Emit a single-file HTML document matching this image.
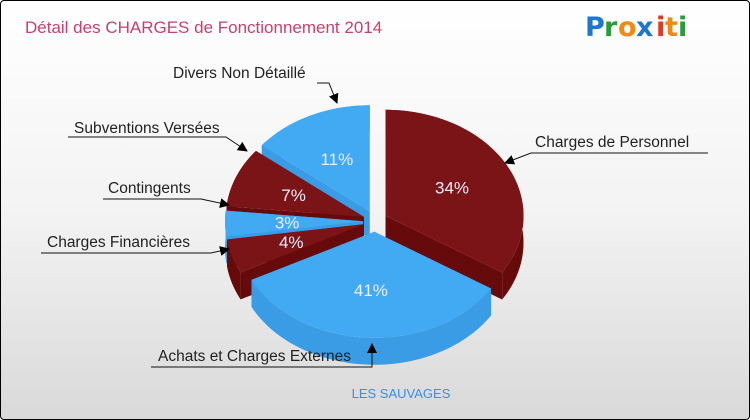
<!DOCTYPE html>
<html><head><meta charset="utf-8"><style>
html,body{margin:0;padding:0}
body{width:750px;height:420px;overflow:hidden;font-family:"Liberation Sans",sans-serif}
#wrap{position:absolute;left:0;top:0;width:748px;height:418px;border:1px solid #000;border-radius:4px;background:linear-gradient(#fff 0%,#f3f3f3 50%,#d9d9d9 100%);overflow:hidden}
</style></head><body>
<div id="wrap">
<svg id="svg" width="748" height="418" viewBox="0 0 748 418">
<defs><marker id="arr" markerWidth="10" markerHeight="10" refX="9" refY="5" orient="auto" markerUnits="userSpaceOnUse"><path d="M0,0 L10,5 L0,10 z" fill="#000"/></marker></defs>
<text x="24" y="32" font-size="17" fill="#c8406e">Détail des CHARGES de Fonctionnement 2014</text>
<g font-family="'DejaVu Sans',sans-serif" font-weight="bold" font-size="27">
<text x="584" y="35" fill="#1a78d0">P</text><text x="603" y="35" fill="#2a9a3a">r</text><text x="617" y="35" fill="#f08a10">o</text><text x="635" y="35" fill="#1a78d0">x</text><text x="655" y="35" fill="#e03a20">i</text><text x="664" y="35" fill="#f08a10">t</text><text x="677" y="35" fill="#2a9a3a">i</text>
</g>
<g id="pie"></g>
<g id="labels" font-size="15.5" fill="#222"></g>
<text x="400" y="397" font-size="13" fill="#3a8ee0" text-anchor="middle">LES SAUVAGES</text>
</svg>
</div>
<script>
const categories=["Charges de Personnel","Achats et Charges Externes","Charges Financières","Contingents","Subventions Versées","Divers Non Détaillé"];
const values=[34,41,4,3,7,11];
const pctLabels=["34%","41%","4%","3%","7%","11%"];
const NS="http://www.w3.org/2000/svg";
const cx=374,cy=220,rx=138,ry=106,depth=27,ex=12;
const tops=["#7b1416","#42aaf2"],sides=["#660a0b","#3a9ce4"];
const pie=document.getElementById('pie');
const total=values.reduce((a,b)=>a+b,0);
// perspective-like angular warp (degrees in -> degrees out)
const wk=[[0,0],[122,122],[270,243],[360,360]];
function warp(a){let d=a*180/Math.PI;for(let k=1;k<wk.length;k++){if(d<=wk[k][0]+1e-9){const t=(d-wk[k-1][0])/(wk[k][0]-wk[k-1][0]);return (wk[k-1][1]+t*(wk[k][1]-wk[k-1][1]))*Math.PI/180;}}return a;}
function pt(a,ox,oy,r){const w=warp(a);return [ox+rx*r*Math.sin(w),oy-ry*r*Math.cos(w)];}
function mk(tag,attrs){const e=document.createElementNS(NS,tag);for(const k in attrs)e.setAttribute(k,attrs[k]);return e;}
let acc=0;const sl=[];
values.forEach((v,i)=>{const a0=acc/total*2*Math.PI;acc+=v;const a1=acc/total*2*Math.PI;const m=(a0+a1)/2;const wm=warp(m);
const ox=cx+ex*Math.sin(wm),oy=cy-ex*Math.cos(wm)*0.9;sl.push({a0,a1,m,ox,oy,i});});
const sideG=mk('g',{});const topG=mk('g',{});pie.appendChild(sideG);pie.appendChild(topG);
const order=sl.slice().sort((a,b)=>(-Math.cos(warp(a.m)))-(-Math.cos(warp(b.m))));
order.forEach(s=>{const col=s.i%2;
 [s.a0,s.a1].forEach(a=>{const p=pt(a,s.ox,s.oy,1);
  const w=mk('path',{d:`M${s.ox},${s.oy}L${p[0]},${p[1]}L${p[0]},${p[1]+depth}L${s.ox},${s.oy+depth}Z`,fill:sides[col]});
  sideG.appendChild(w);});
 let d='',back='';const N=60;
 for(let k=0;k<=N;k++){const a=s.a0+(s.a1-s.a0)*k/N;const p=pt(a,s.ox,s.oy,1);d+=(k?'L':'M')+p[0]+','+p[1];}
 for(let k=N;k>=0;k--){const a=s.a0+(s.a1-s.a0)*k/N;const p=pt(a,s.ox,s.oy,1);back+='L'+p[0]+','+(p[1]+depth);}
 const b=mk('path',{d:d+back+'Z',fill:sides[col]});
 sideG.appendChild(b);
});
sl.forEach(s=>{const col=s.i%2;const N=60;
 let t=`M${s.ox},${s.oy}`;
 for(let k=0;k<=N;k++){const a=s.a0+(s.a1-s.a0)*k/N;const p=pt(a,s.ox,s.oy,1);t+='L'+p[0]+','+p[1];}
 const tp=mk('path',{d:t+'Z',fill:tops[col]});
 topG.appendChild(tp);
});
sl.forEach(s=>{
 const lp=pt(s.m,s.ox,s.oy,0.55);
 const tx=mk('text',{x:lp[0],y:lp[1]+6,'font-size':17,fill:'#eef','text-anchor':'middle'});
 tx.textContent=pctLabels[s.i];
 topG.appendChild(tx);
});
const L=document.getElementById('labels');
const lab=[
 {i:0,x:534,y:146,line:"M707,152 L530,152 L504,162"},
 {i:1,x:157,y:360,line:"M150,366 L371,366 L371,343"},
 {i:2,x:46,y:246,line:"M40,252 L210,252 L228,248"},
 {i:3,x:107,y:192,line:"M102,198 L200,198 L228,204"},
 {i:4,x:73,y:132,line:"M67,136 L225,136 L246,150"},
 {i:5,x:172,y:77,line:"M316,82 L328,82 L336,102"}];
lab.forEach(o=>{const t=mk('text',{x:o.x,y:o.y});t.textContent=categories[o.i];
 L.appendChild(t);
 const p=mk('path',{d:o.line,stroke:'#111','stroke-width':1,fill:'none','marker-end':'url(#arr)'});
 L.appendChild(p);});
</script>
</body></html>
